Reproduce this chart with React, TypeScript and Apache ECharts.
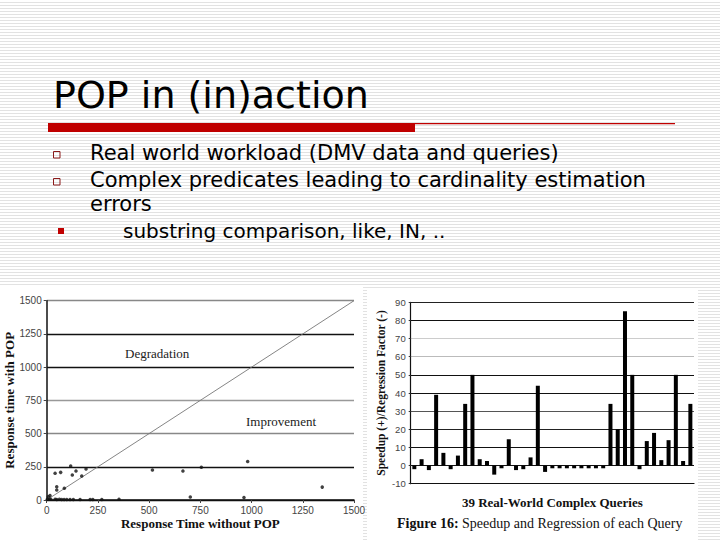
import React, { useEffect, useRef } from "react";
import * as echarts from "echarts";

const TITLE = "POP in (in)action";
const BULLETS = [
  "Real world workload (DMV data and queries)",
  "Complex predicates leading to cardinality estimation",
  "errors",
];
const SUB_BULLET = "substring comparison, like, IN, ..";

// Left chart: response time with / without POP
const SCATTER_TICKS = ["0", "250", "500", "750", "1000", "1250", "1500"];
const withoutPop = [117, 41, 68, 143, 125, 192, 171, 49, 49, 86, 516, 665, 755, 981, 1345, 701, 963, 353,
  3, 13, 20, 41, 49, 62, 73, 85, 98, 114, 130, 163, 212, 225, 269, 8, 16];
const withPop = [256, 201, 208, 218, 188, 233, 181, 100, 75, 88, 226, 218, 246, 290, 97, 22, 18, 5,
  5, 6, 5, 5, 4, 5, 4, 4, 4, 3, 3, 3, 3, 3, 3, 25, 34];
const diagonalX = [0, 1500];
const diagonalY = [0, 1500];

// Right chart: speedup / regression per query
const queries = ["1", "2", "3", "4", "5", "6", "7", "8", "9", "10", "11", "12", "13", "14", "15", "16", "17", "18", "19", "20",
  "21", "22", "23", "24", "25", "26", "27", "28", "29", "30", "31", "32", "33", "34", "35", "36", "37", "38", "39"];
const speedup = [-2, 3.5, -2.5, 39, 7, -2, 5.5, 34, 50, 3.5,
  2.5, -5, -1.5, 14.5, -2.5, -2, 4.5, 44, -3.5, -1.5,
  -1.5, -1.5, -1.5, -1.5, -1.5, -1.5, -1.5, 34, 20, 85,
  50, -2, 13.5, 18, 3, 14, 50, 2.5, 34];

const SLIDE_FONT = "'DejaVu Sans', sans-serif";
const SERIF = "'Liberation Serif', 'DejaVu Serif', serif";
const SANS = "'Liberation Sans', Arial, sans-serif";
const RED = "#c00000";

export default function App() {
  const ref = useRef<HTMLDivElement>(null);
  useEffect(() => {
    if (!ref.current) return;
    const chart = echarts.init(ref.current, undefined, { renderer: "svg" });
    const scatterData = withoutPop.map((x, i) => [x, withPop[i]]);
    const diagData = diagonalX.map((x, i) => [x, diagonalY[i]]);
    chart.setOption({
      animation: false,
      backgroundColor: "transparent",
      grid: [
        { left: 46.7, right: 366, top: 300.7, bottom: 40, containLabel: false },
        { left: 410.7, right: 26, top: 302.3, bottom: 56.3, containLabel: false },
      ],
      xAxis: [
        {
          gridIndex: 0, type: "value", min: 0, max: 1500, interval: 250,
          name: "Response Time without POP", nameLocation: "middle", nameGap: 17,
          nameTextStyle: { fontFamily: SERIF, fontWeight: "bold", fontSize: 13, color: "#111" },
          axisLine: { show: true, lineStyle: { color: "#111", width: 1.5 } },
          axisTick: { show: true, length: 3, lineStyle: { color: "#444" } },
          axisLabel: { fontFamily: SANS, fontSize: 10, color: "#444", margin: 5,
            formatter: (v: number) => SCATTER_TICKS[Math.round(v / 250)] ?? String(v) },
          splitLine: { show: false },
        },
        {
          gridIndex: 1, type: "category", data: queries,
          name: "39 Real-World Complex Queries", nameLocation: "middle", nameGap: 12,
          nameTextStyle: { fontFamily: SERIF, fontWeight: "bold", fontSize: 13, color: "#111" },
          axisLine: { show: true, onZero: false, lineStyle: { color: "#111", width: 1.2 } },
          axisTick: { show: false },
          axisLabel: { show: false },
        },
      ],
      yAxis: [
        {
          gridIndex: 0, type: "value", min: 0, max: 1500, interval: 250,
          name: "Response time with POP", nameLocation: "middle", nameGap: 30,
          nameTextStyle: { fontFamily: SERIF, fontWeight: "bold", fontSize: 13, color: "#111" },
          axisLine: { show: true, lineStyle: { color: "#111", width: 1.5 } },
          axisTick: { show: true, length: 3, lineStyle: { color: "#444" } },
          axisLabel: { fontFamily: SANS, fontSize: 10, color: "#444", margin: 5,
            formatter: (v: number) => SCATTER_TICKS[Math.round(v / 250)] ?? String(v) },
          splitLine: { show: true, lineStyle: { width: 1.3, color: ["#111", "#111", "#888", "#999", "#111", "#111", "#888"] } },
        },
        {
          gridIndex: 1, type: "value", min: -10, max: 90, interval: 10,
          name: "Speedup (+)/Regression Factor (-)", nameLocation: "middle", nameGap: 24,
          nameTextStyle: { fontFamily: SERIF, fontWeight: "bold", fontSize: 11.5, color: "#111" },
          axisLine: { show: true, lineStyle: { color: "#111", width: 1.2 } },
          axisTick: { show: true, length: 2, lineStyle: { color: "#333" } },
          axisLabel: { fontFamily: SANS, fontSize: 9.5, color: "#444", margin: 5 },
          splitLine: { show: true, lineStyle: { width: 1.2, color: ["#111", "#111", "#111", "#222", "#555", "#111", "#111", "#bbb", "#ccc", "#111", "#222"] } },
        },
      ],
      series: [
        {
          type: "line", xAxisIndex: 0, yAxisIndex: 0, data: diagData,
          symbol: "none", lineStyle: { color: "#777", width: 0.9 }, z: 3,
        },
        {
          type: "scatter", xAxisIndex: 0, yAxisIndex: 0, data: scatterData,
          symbol: "circle", symbolSize: 3.5, itemStyle: { color: "#111" }, z: 4,
        },
        {
          type: "bar", xAxisIndex: 1, yAxisIndex: 1, data: speedup,
          barWidth: 4, itemStyle: { color: "#000" }, z: 4,
        },
      ],
      graphic: [
        { type: "rect", z: -10, shape: { x: 0, y: 287, width: 363, height: 253 }, style: { fill: "#fff" } },
        { type: "rect", z: -10, shape: { x: 367, y: 289, width: 331, height: 251 }, style: { fill: "#fff" } },
        { type: "text", x: 53, y: 95, style: { text: TITLE, font: `38px ${SLIDE_FONT}`, fill: "#000", verticalAlign: "middle" } },
        { type: "rect", shape: { x: 48, y: 123, width: 367, height: 9 }, style: { fill: RED } },
        { type: "rect", shape: { x: 415, y: 123, width: 260, height: 1.3 }, style: { fill: RED } },
        { type: "rect", shape: { x: 53.5, y: 151.5, width: 6.5, height: 6.5 }, style: { fill: "none", stroke: "#8b1a1a", lineWidth: 1 } },
        { type: "rect", shape: { x: 53.5, y: 178.5, width: 6.5, height: 6.5 }, style: { fill: "none", stroke: "#8b1a1a", lineWidth: 1 } },
        { type: "rect", shape: { x: 58, y: 228, width: 6, height: 6 }, style: { fill: RED } },
        { type: "text", x: 90, y: 153, style: { text: BULLETS[0], font: `21px ${SLIDE_FONT}`, fill: "#000", verticalAlign: "middle" } },
        { type: "text", x: 90, y: 180, style: { text: BULLETS[1], font: `21px ${SLIDE_FONT}`, fill: "#000", verticalAlign: "middle" } },
        { type: "text", x: 90, y: 204, style: { text: BULLETS[2], font: `21px ${SLIDE_FONT}`, fill: "#000", verticalAlign: "middle" } },
        { type: "text", x: 123, y: 231, style: { text: SUB_BULLET, font: `20px ${SLIDE_FONT}`, fill: "#000", verticalAlign: "middle" } },
        { type: "text", x: 125, y: 353, style: { text: "Degradation", font: `13px ${SERIF}`, fill: "#222", verticalAlign: "middle" } },
        { type: "text", x: 246, y: 421, style: { text: "Improvement", font: `13px ${SERIF}`, fill: "#222", verticalAlign: "middle" } },
        {
          type: "text", x: 397, y: 523,
          style: {
            text: "{b|Figure 16:} Speedup and Regression of each Query",
            font: `14px ${SERIF}`, fill: "#111", verticalAlign: "middle",
            rich: { b: { fontFamily: SERIF, fontWeight: "bold", fontSize: 14, fill: "#111" } },
          },
        },
      ],
    });
    return () => chart.dispose();
  }, []);
  return (
    <div
      ref={ref}
      style={{
        position: "fixed", left: 0, top: 0, width: 720, height: 540,
        background: "repeating-linear-gradient(to bottom, #ffffff 0px, #ffffff 2px, #e2e2e2 2px, #e2e2e2 3px)",
      }}
    />
  );
}
